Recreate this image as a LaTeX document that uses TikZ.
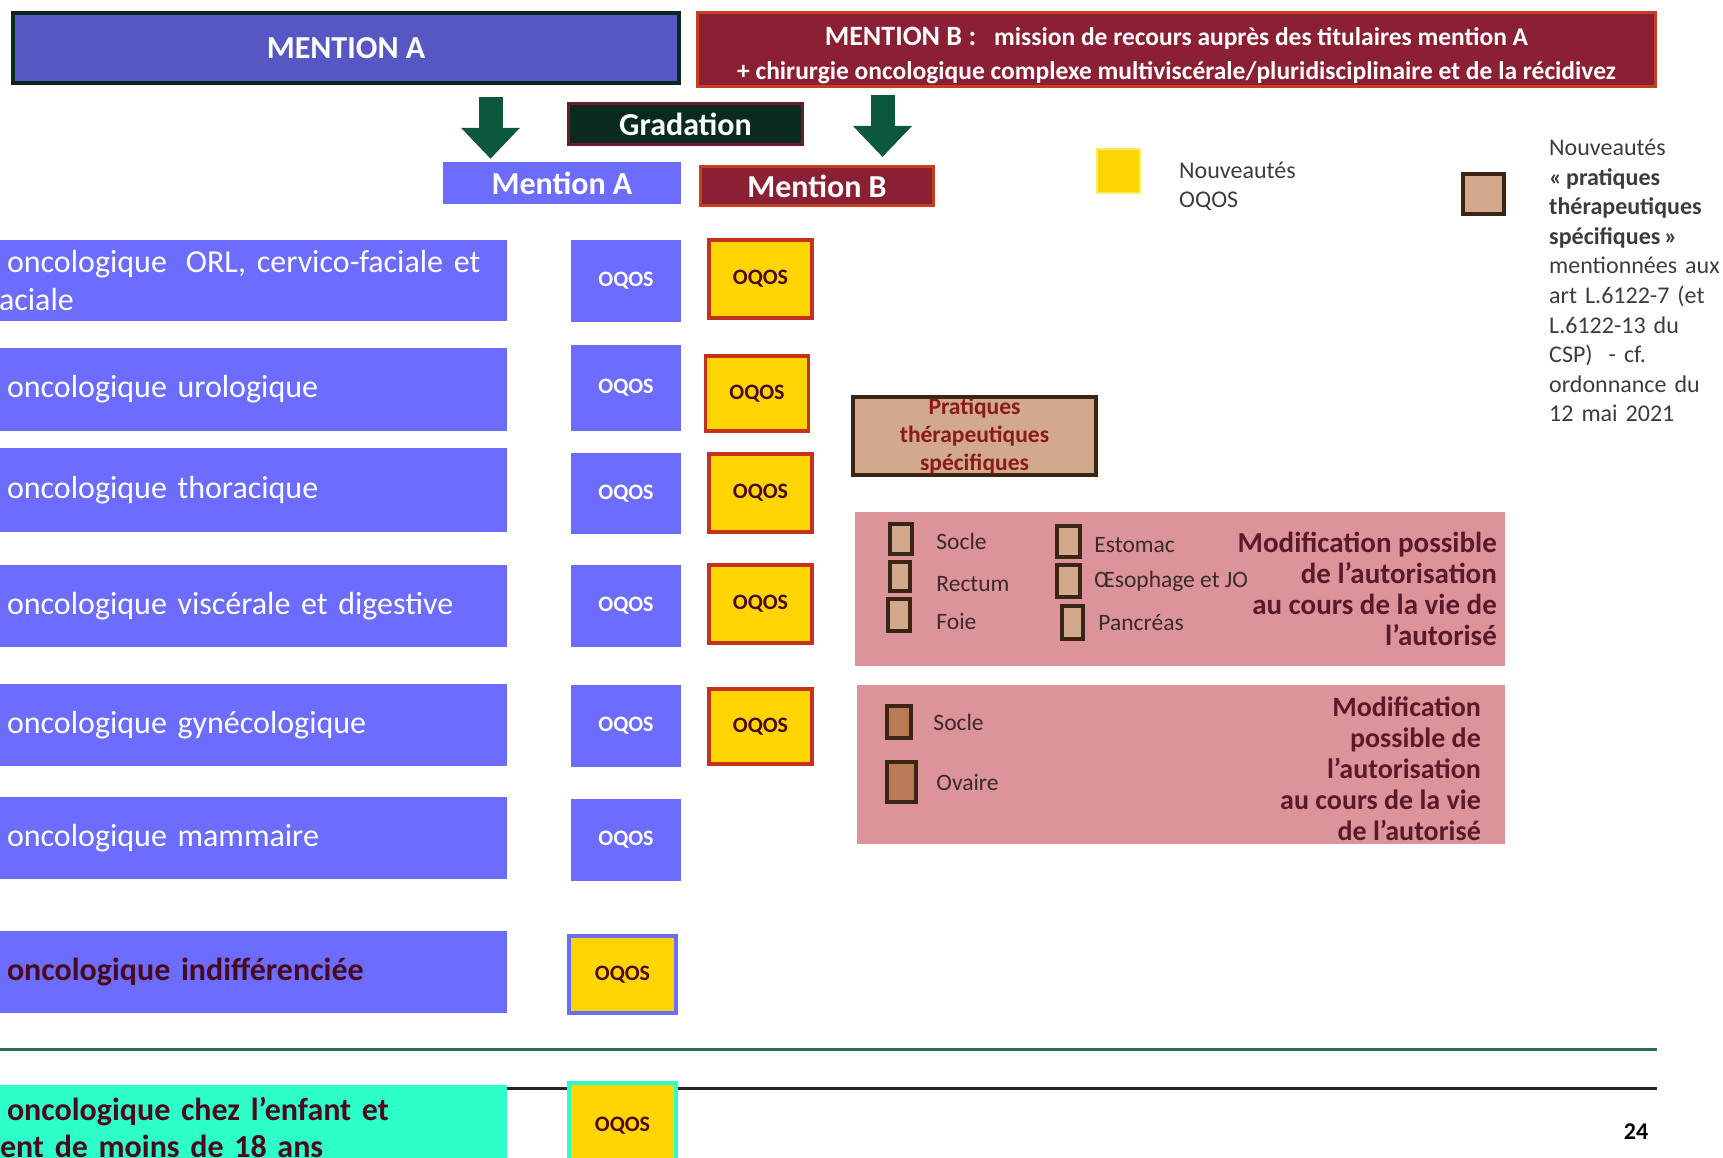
\documentclass[tikz,border=0pt]{standalone}
\usepackage{fontspec}
\setmainfont{Carlito}
\usetikzlibrary{arrows.meta, positioning}

\definecolor{rowblue}{RGB}{108,108,255}
\definecolor{topblue}{RGB}{87,87,196}
\definecolor{topborder}{RGB}{12,40,30}
\definecolor{bred}{RGB}{139,32,53}
\definecolor{bborder}{RGB}{200,62,32}
\definecolor{gradfill}{RGB}{10,42,30}
\definecolor{gradborder}{RGB}{110,26,42}
\definecolor{arrowgreen}{RGB}{12,88,58}
\definecolor{oqosyellow}{RGB}{255,213,0}
\definecolor{oqosred}{RGB}{196,50,30}
\definecolor{legyellow}{RGB}{255,232,110}
\definecolor{darkmaroon}{RGB}{74,10,30}
\definecolor{ptstan}{RGB}{210,169,140}
\definecolor{ptsdark}{RGB}{58,36,20}
\definecolor{ptsbrown}{RGB}{185,123,85}
\definecolor{ptsred}{RGB}{139,26,26}
\definecolor{pinkzone}{RGB}{220,147,153}
\definecolor{lbltext}{RGB}{58,42,42}
\definecolor{modred}{RGB}{90,26,42}
\definecolor{legtext}{RGB}{60,60,60}
\definecolor{pedaqua}{RGB}{45,255,200}
\definecolor{sepgreen}{RGB}{46,107,90}

\begin{document}
\begin{tikzpicture}[x=1pt, y=-1pt,
    rowbox/.style={rectangle, fill=rowblue, minimum width=507pt, text width=493pt, inner xsep=7pt, inner ysep=0pt, align=left, text=white, font=\fontsize{32}{38.5}\selectfont},
    oqosa/.style={rectangle, fill=rowblue, minimum width=110pt, inner sep=0pt, text=white, font=\bfseries\fontsize{22}{26}\selectfont},
    oqosb/.style={rectangle, fill=oqosyellow, draw=oqosred, line width=3.5pt, minimum width=103pt, inner sep=0pt, text=darkmaroon, font=\bfseries\fontsize{22}{26}\selectfont},
    headbox/.style={rectangle, inner sep=0pt, text=white, font=\bfseries\fontsize{32}{36}\selectfont},
    ptsbox/.style={rectangle, fill=ptstan, draw=ptsdark, line width=3.5pt, inner sep=0pt},
    pinkbox/.style={rectangle, fill=pinkzone, inner sep=0pt},
    lbl/.style={inner sep=0pt, text=lbltext, font=\fontsize{23.5}{27}\selectfont},
    modtext/.style={inner sep=0pt, align=right, text=modred, font=\bfseries\fontsize{29}{31}\selectfont},
    bigarrow/.style={draw=arrowgreen, line width=24pt, -{Triangle[width=57pt, length=31pt]}}]
\useasboundingbox (0,0) rectangle (1723,1158);

\node (mentA) [headbox, fill=topblue, draw=topborder, line width=4pt, minimum width=666pt, minimum height=70pt] at (346,48) {MENTION A};
\node (mentB) [headbox, fill=bred, draw=bborder, line width=3pt, minimum width=958pt, minimum height=74pt, align=center, font=\bfseries\fontsize{25.5}{34}\selectfont] at (1176.5,49.5) {\rule{0pt}{30pt}{\fontsize{28}{34}\selectfont MENTION B :}\hspace{18pt}mission de recours auprès des titulaires mention A\\+ chirurgie oncologique complexe multiviscérale/pluridisciplinaire et de la récidivez};
\node (grad) [headbox, fill=gradfill, draw=gradborder, line width=3pt, minimum width=234pt, minimum height=41pt] at (685.5,124) {Gradation};
\node (smallA) [headbox, fill=rowblue, minimum width=238pt, minimum height=42pt] at (562,183) {Mention A};
\node (smallB) [headbox, fill=bred, draw=bborder, line width=3pt, minimum width=233pt, minimum height=39pt] at (817,186) {Mention B};
\coordinate (arrA) at (490.5,97);
\coordinate (arrB) at (882.5,95);
\draw [bigarrow, shorten >=3pt] (arrA) -- (arrA |- smallA.north);
\draw [bigarrow, shorten >=8pt] (arrB) -- (arrB |- smallB.north);

\node (legY) [rectangle, fill=oqosyellow, draw=legyellow, line width=2pt, minimum width=43pt, minimum height=44pt, inner sep=0pt] at (1118.5,171) {};
\node (legYtext) [anchor=west, inner sep=0pt, align=left, text=legtext, font=\fontsize{24}{29}\selectfont] at (1179,186.5) {Nouveautés\\OQOS};
\node (legT) [ptsbox, line width=4pt, minimum width=41pt, minimum height=40pt] at (1483.5,194) {};
\node (legTtext) [anchor=north west, inner sep=0pt, text width=180pt, align=left, text=legtext, font=\fontsize{24}{29.6}\selectfont] at (1549,139) {Nouveautés\\\textbf{«\,pratiques}\\\textbf{thérapeutiques}\\\textbf{spécifiques\,»}\\mentionnées aux\\art L.6122-7 (et\\L.6122-13 du\\CSP)\ \ - cf.\\ordonnance du\\12 mai 2021};

\node (orl) [rowbox, minimum height=81pt] at (253.5,280.5) {oncologique\hspace{19pt}ORL, cervico-faciale et\\\hspace*{-8pt}aciale};
\node (uro) [rowbox, minimum height=83pt] at (253.5,389.5) {oncologique urologique};
\node (thor) [rowbox, minimum height=84pt] at (253.5,490) {oncologique thoracique};
\node (visc) [rowbox, minimum height=82pt] at (253.5,606) {oncologique viscérale et digestive};
\node (gyn) [rowbox, minimum height=82pt] at (253.5,725) {oncologique gynécologique};
\node (mam) [rowbox, minimum height=82pt] at (253.5,838) {oncologique mammaire};
\node (indif) [rowbox, minimum height=82pt, text=darkmaroon, font=\bfseries\fontsize{32}{38.5}\selectfont] at (253.5,972) {oncologique indifférenciée};
\node (ped) [rowbox, fill=pedaqua, minimum height=85pt, text=darkmaroon, font=\bfseries\fontsize{32}{37}\selectfont] at (253.5,1127.5) {oncologique chez l’enfant et\\\hspace*{-7pt}ent de moins de 18 ans};

\node (orlA) [oqosa, minimum height=82pt] at (626,281) {OQOS};
\node (uroA) [oqosa, minimum height=86pt] at (626,388) {OQOS};
\node (thorA) [oqosa, minimum height=81pt] at (626,493.5) {OQOS};
\node (viscA) [oqosa, minimum height=82pt] at (626,606) {OQOS};
\node (gynA) [oqosa, minimum height=82pt] at (626,726) {OQOS};
\node (mamA) [oqosa, minimum height=82pt] at (626,840) {OQOS};

\node (orlB) [oqosb, minimum height=78pt] at (760.5,279) {OQOS};
\node (uroB) [oqosb, minimum height=75pt] at (757,393.5) {OQOS};
\node (thorB) [oqosb, minimum height=78pt] at (760.5,493) {OQOS};
\node (viscB) [oqosb, minimum height=78pt] at (760.5,604) {OQOS};
\node (gynB) [oqosb, minimum height=75pt] at (760.5,726.5) {OQOS};
\node (indifB) [oqosb, draw=rowblue, minimum width=107pt, minimum height=77pt] at (622.5,974.5) {OQOS};

\node (pts) [ptsbox, line width=4pt, minimum width=243pt, minimum height=78pt, align=center, text=ptsred, font=\bfseries\fontsize{23.5}{28}\selectfont] at (974.5,436) {Pratiques\\thérapeutiques\\spécifiques};

\node (digZone) [pinkbox, minimum width=650pt, minimum height=154pt] at (1180,589) {};
\node (sSocle) [ptsbox, line width=4.5pt, minimum width=22pt, minimum height=30pt] at (901,539) {};
\node (sRectum) [ptsbox, line width=4.5pt, minimum width=20pt, minimum height=29pt] at (900,576.5) {};
\node (sFoie) [ptsbox, line width=4.5pt, minimum width=22pt, minimum height=32pt] at (899,615) {};
\node (sEstomac) [ptsbox, line width=4.5pt, minimum width=23pt, minimum height=31pt] at (1068.5,541.5) {};
\node (sOeso) [ptsbox, line width=4.5pt, minimum width=23pt, minimum height=32pt] at (1068.5,581) {};
\node (sPanc) [ptsbox, line width=4.5pt, minimum width=21pt, minimum height=33pt] at (1072.5,622.5) {};
\node (lSocle) [lbl, right=22pt of sSocle, yshift=-2pt] {Socle};
\node (lRectum) [lbl, right=24pt of sRectum, yshift=-8pt] {Rectum};
\node (lFoie) [lbl, right=24pt of sFoie, yshift=-6pt] {Foie};
\node (lEstomac) [lbl, right=12pt of sEstomac, yshift=-4pt] {Estomac};
\node (lOeso) [lbl, right=12pt of sOeso] {Œsophage et JO};
\node (lPanc) [lbl, right=13pt of sPanc] {Pancréas};
\node (digMod) [modtext, anchor=east] at (1497,588.5) {Modification possible\\de l’autorisation\\au cours de la vie de\\l’autorisé};

\node (gynZone) [pinkbox, minimum width=648pt, minimum height=159pt] at (1181,764.5) {};
\node (sSocle2) [ptsbox, fill=ptsbrown, line width=4.5pt, minimum width=24pt, minimum height=32pt] at (899,722) {};
\node (sOvaire) [ptsbox, fill=ptsbrown, line width=4.5pt, minimum width=29pt, minimum height=40pt] at (901.5,782) {};
\node (lSocle2) [lbl, right=20pt of sSocle2] {Socle};
\node (lOvaire) [lbl, right=18pt of sOvaire] {Ovaire};
\node (gynMod) [modtext, font=\bfseries\fontsize{28}{31}\selectfont, anchor=east] at (1481,769) {Modification\\possible de\\l’autorisation\\au cours de la vie\\de l’autorisé};

\draw [line width=3pt, sepgreen] (0,1049) -- (1657,1049);
\draw [line width=3pt, black!85] (507,1088) -- (1657,1088);
\node (pedB) [oqosb, draw=pedaqua, minimum width=107pt, minimum height=85pt] at (622.5,1125.5) {OQOS};
\node (pnum) [inner sep=0pt, font=\bfseries\fontsize{24}{28}\selectfont] at (1636,1132) {24};
\end{tikzpicture}
\end{document}
